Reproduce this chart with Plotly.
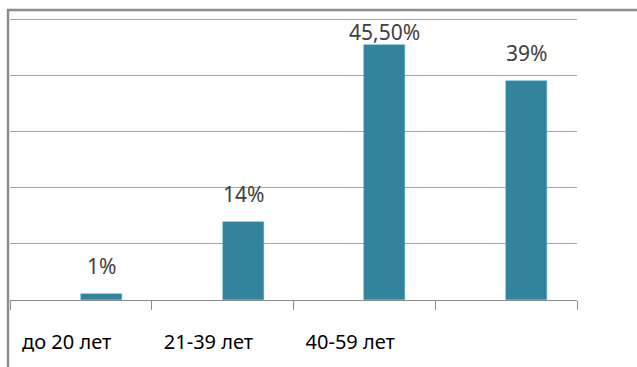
import plotly.graph_objects as go

categories = ["до 20 лет", "21-39 лет", "40-59 лет", ""]
values = [1, 14, 45.5, 39]
value_labels = ["1%", "14%", "45,50%", "39%"]

BAR_COLOR = "#31849B"
GRID = "#A6A6A6"
FONT = "Noto Sans"

xs = list(range(len(categories)))

fig = go.Figure()
fig.add_trace(go.Bar(
    x=xs, y=values, width=0.29, offset=0,
    marker=dict(color=BAR_COLOR, line=dict(color="#4BACC6", width=0.5)),
    hoverinfo="skip",
))

for x, v, t in zip(xs, values, value_labels):
    fig.add_annotation(x=x + 0.145, y=min(v + 5, 47.9), text=t, showarrow=False,
                       xref="x", yref="y", yanchor="middle",
                       font=dict(family=FONT, size=21, color="#404040"))

fig.update_layout(
    width=637, height=367,
    margin=dict(l=10, r=60, t=17, b=67),
    paper_bgcolor="white", plot_bgcolor="white",
    showlegend=False,
    bargap=0,
    xaxis=dict(
        range=[-0.5, 3.5],
        tickmode="array",
        tickvals=[x - 0.1 for x in xs],
        ticktext=categories,
        ticks="",
        tickfont=dict(family=FONT, size=20, color="#000000"),
        showgrid=False, zeroline=False,
        showline=True, linecolor="#8C8C8C", linewidth=1,
        minor=dict(tickvals=[x - 0.5 for x in xs] + [3.5], ticks="outside",
                   ticklen=9, tickcolor="#8C8C8C", showgrid=False),
        ticklabelstandoff=24,
    ),
    yaxis=dict(
        range=[0, 50.5], tickmode="array", tickvals=[10, 20, 30, 40, 50],
        showticklabels=False, ticks="",
        showgrid=True, gridcolor=GRID, gridwidth=1,
        zeroline=False, showline=False,
    ),
)

# outer chart frame (extends beyond the cropped image)
fig.add_shape(type="rect", xref="paper", yref="paper",
              x0=-2 / 567, x1=1.3, y0=-0.4, y1=1 + 7 / 283,
              line=dict(color="#8C8C8C", width=2.5), layer="above")

fig.write_html("out.html")
